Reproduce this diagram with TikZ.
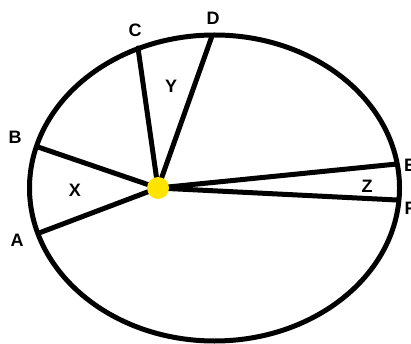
\documentclass[tikz,border=0pt]{standalone}
\usepackage{tikz}
\usepackage{fontspec}
\setsansfont{Liberation Sans}
\definecolor{hubyellow}{RGB}{255,228,0}
\begin{document}
\begin{tikzpicture}[x=1pt, y=-1pt, font=\fontsize{18}{20}\selectfont\sffamily\bfseries, line join=round, line cap=round]
			\useasboundingbox (0,0) rectangle (411,344);
			\path (158, 188) coordinate (O)
			(39, 233) coordinate (A)
			(38, 147) coordinate (B)
			(138, 48) coordinate (C)
			(212, 36) coordinate (D)
			(397, 164) coordinate (E)
			(397, 200) coordinate (F);
			\draw[line width=5pt] (214.5, 188) ellipse (185 and 153);
			
			\foreach \p in {A, B, C, D, E, F} {
				\draw[line width=5pt] (O) -- (\p);
			}
			\fill[hubyellow] (O) circle (11);
			
			\foreach \p/\x/\y in {A/17/240, B/15/137, C/135/30, D/213/18, E/410/165, F/410/208} {
				\node (lbl\p) at (\x, \y) {\p};
			}
			\node (X) at (75, 190) {X};
			\node (Y) at (171, 86) {Y};
			\node (Z) at (367, 186) {Z};
		\end{tikzpicture}
\end{document}
